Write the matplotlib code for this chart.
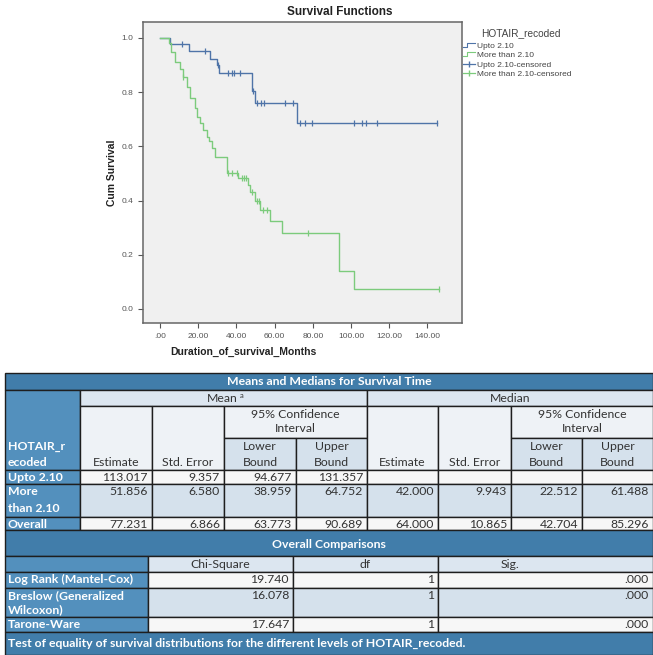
import numpy as np
import matplotlib
matplotlib.use('Agg')
import matplotlib.pyplot as plt
import matplotlib.lines as mlines
from matplotlib.patches import Rectangle
from matplotlib.legend_handler import HandlerBase

# ── Kaplan-Meier curves ──────────────────────────────────────────────────────
low_time  = [0, 5.2, 15.4, 26.2, 29.7, 31.0, 48.0, 49.7, 71.9, 145.0]
low_surv  = [1.0, 0.976, 0.952, 0.924, 0.900, 0.872, 0.804, 0.761, 0.685, 0.685]
low_cens  = [11.7, 23.6, 30.3, 35.8, 37.5, 38.7, 41.9, 48.5, 50.6, 52.7, 54.5,
             65.4, 69.8, 73.3, 75.9, 79.4, 101.7, 105.9, 107.7, 113.8, 145.0]

high_time = [0, 4.7, 5.8, 8.0, 10.5, 11.9, 14.0, 15.7, 18.3, 19.5, 20.9, 22.7,
             24.4, 25.8, 27.1, 28.8, 34.9, 41.0, 45.9, 47.1, 49.7, 52.4, 57.6,
             64.0, 93.7, 101.7, 146.0]
high_surv = [1.0, 0.980, 0.949, 0.913, 0.886, 0.855, 0.818, 0.780, 0.741, 0.710,
             0.685, 0.660, 0.636, 0.618, 0.593, 0.562, 0.503, 0.482, 0.458, 0.430,
             0.400, 0.365, 0.326, 0.279, 0.141, 0.073, 0.073]
high_cens = [12.2, 35.8, 37.5, 40.1, 42.7, 44.0, 45.0, 48.0, 50.6, 51.8, 54.1,
             55.8, 77.7, 146.0]

x_ticks  = [0, 20, 40, 60, 80, 100, 120, 140]
x_labels = ['.00', '20.00', '40.00', '60.00', '80.00', '100.00', '120.00', '140.00']
y_ticks  = [0.0, 0.2, 0.4, 0.6, 0.8, 1.0]
y_labels = ['0.0', '0.2', '0.4', '0.6', '0.8', '1.0']

legend_labels = ['Upto 2.10', 'More than 2.10', 'Upto 2.10-censored', 'More than 2.10-censored']

# ── tables ───────────────────────────────────────────────────────────────────
mm_groups = [['Upto 2.10'], ['More', 'than 2.10'], ['Overall']]
mean_est  = ['113.017', '51.856', '77.231']
mean_se   = ['9.357', '6.580', '6.866']
mean_lo   = ['94.677', '38.959', '63.773']
mean_hi   = ['131.357', '64.752', '90.689']
med_est   = ['', '42.000', '64.000']
med_se    = ['', '9.943', '10.865']
med_lo    = ['', '22.512', '42.704']
med_hi    = ['', '61.488', '85.296']

tests  = [['Log Rank (Mantel-Cox)'], ['Breslow (Generalized', 'Wilcoxon)'], ['Tarone-Ware']]
chi_sq = ['19.740', '16.078', '17.647']
dfs    = ['1', '1', '1']
sig    = ['.000', '.000', '.000']

BLUE  = '#4f74a8'
GREEN = '#7ccb7c'
W, H = 653, 655

fig = plt.figure(figsize=(W / 100, H / 100), dpi=100)
fig.patch.set_facecolor('white')


def px(x0, y0, x1, y1):
    return [x0 / W, 1 - y1 / H, (x1 - x0) / W, (y1 - y0) / H]


class StepHandler(HandlerBase):
    # small "_|‾‾" step symbol like SPSS uses for the survival lines
    def create_artists(self, legend, orig, xd, yd, width, height, fontsize, trans):
        x0, y0 = -xd, -yd
        xs = [x0, x0 + 0.35 * width, x0 + 0.35 * width, x0 + width]
        ys = [y0 + 0.15 * height, y0 + 0.15 * height, y0 + 0.85 * height, y0 + 0.85 * height]
        ln = mlines.Line2D(xs, ys, color=orig.get_color(), lw=0.8, transform=trans)
        return [ln]


# ── survival plot ────────────────────────────────────────────────────────────
ax = fig.add_axes(px(143, 22, 462, 323))
ax.set_facecolor('#f0f0f0')

for t, s, c, col in [(low_time, low_surv, low_cens, BLUE),
                     (high_time, high_surv, high_cens, GREEN)]:
    ax.step(t, s, where='post', color=col, lw=1.0, zorder=3)
    idx = np.searchsorted(t, c, side='right') - 1
    ax.plot(c, np.array(s)[idx], linestyle='None', marker='|', color=col,
            markersize=5, markeredgewidth=0.9, zorder=4)

ax.set_xlim(-8.9, 158.1)
ax.set_ylim(-0.052, 1.059)
ax.set_xticks(x_ticks)
ax.set_xticklabels(x_labels)
ax.set_yticks(y_ticks)
ax.set_yticklabels(y_labels)
ax.tick_params(labelsize=6, colors='#555555', length=3.5, width=0.8,
               labelfontfamily='Liberation Sans')
for spine in ax.spines.values():
    spine.set_color('#666666')
    spine.set_linewidth(1.1)

fig.text(340 / W, 1 - 12 / H, 'Survival Functions', ha='center', va='center',
         fontsize=8.5, fontweight='bold', family='Liberation Sans', color='#222222')
fig.text(112 / W, 1 - 173 / H, 'Cum Survival', ha='center', va='center', rotation=90,
         fontsize=7.5, fontweight='bold', family='Liberation Sans', color='#222222')
fig.text(243 / W, 1 - 352 / H, 'Duration_of_survival_Months', ha='center', va='center',
         fontsize=7.5, fontweight='bold', family='Liberation Sans', color='#222222')

step_low = mlines.Line2D([], [], color=BLUE, lw=0.9)
step_high = mlines.Line2D([], [], color=GREEN, lw=0.9)
handles = [
    step_low,
    step_high,
    mlines.Line2D([], [], color=BLUE, lw=0.9, marker='|', markersize=5),
    mlines.Line2D([], [], color=GREEN, lw=0.9, marker='|', markersize=5),
]
fig.text(481 / W, 1 - 33 / H, 'HOTAIR_recoded', ha='left', va='center',
         fontsize=7.3, family='Liberation Sans', color='#444444')
leg = ax.legend(handles, legend_labels, loc='upper left', frameon=False,
                bbox_to_anchor=(463 / W, 1 - 42 / H), bbox_transform=fig.transFigure,
                prop={'family': 'Liberation Sans', 'size': 6},
                handlelength=1.4, handletextpad=0.3, labelspacing=0.2,
                borderaxespad=0, borderpad=0,
                handler_map={step_low: StepHandler(), step_high: StepHandler()})
for txt in leg.get_texts():
    txt.set_color('#444444')

# ── tables, drawn in pixel coordinates ───────────────────────────────────────
tb = fig.add_axes([0, 0, 1, 1])
tb.set_xlim(0, W)
tb.set_ylim(H, 0)
tb.axis('off')

DARK = '#417daa'
STUB = '#5390bd'
HEAD = '#dce6f0'
PALE = '#eef2f6'
LB   = '#d5e1ec'
ROW  = '#f7f7f7'
FONT = ['Lato', 'DejaVu Sans']


def box(x0, x1, y0, y1, fc):
    tb.add_patch(Rectangle((x0, y0), x1 - x0, y1 - y0, facecolor=fc,
                           edgecolor='#1e1e1e', linewidth=1.0))


def put(x, y, s, ha='center', color='#333333', bold=False, size=8.8):
    tb.text(x, y, s, ha=ha, va='center', fontsize=size, color=color,
            family=FONT, fontweight='bold' if bold else 'normal')


X1 = [5, 80, 152, 224, 296, 367, 438, 511, 582, 653]
# title band
box(5, 653, 373, 390, DARK)
put(329, 381.5, 'Means and Medians for Survival Time', color='white', bold=True)
# stub header
box(5, 80, 390, 470, STUB)
put(8, 447, 'HOTAIR_r', ha='left', color='white', bold=True)
put(8, 462.5, 'ecoded', ha='left', color='white', bold=True)
# Mean / Median
box(80, 367, 390, 406, HEAD)
put(222, 398, 'Mean')
put(242, 395, 'a', size=5.5)
box(367, 653, 390, 406, HEAD)
put(510, 398, 'Median')
for a, b, c, d, e in (X1[1:6], X1[5:10]):
    box(a, b, 406, 470, PALE)
    put((a + b) / 2, 462.5, 'Estimate')
    box(b, c, 406, 470, PALE)
    put((b + c) / 2, 462.5, 'Std. Error')
    box(c, e, 406, 438, PALE)
    put((c + e) / 2, 415, '95% Confidence')
    put((c + e) / 2, 429, 'Interval')
    box(c, d, 438, 470, LB)
    put((c + d) / 2, 447, 'Lower')
    put((c + d) / 2, 462.5, 'Bound')
    box(d, e, 438, 470, LB)
    put((d + e) / 2, 447, 'Upper')
    put((d + e) / 2, 462.5, 'Bound')

rows1 = [(470, 484, ROW), (484, 517, LB), (517, 530, ROW)]
cols1 = [mean_est, mean_se, mean_lo, mean_hi, med_est, med_se, med_lo, med_hi]
for i, (y0, y1, fc) in enumerate(rows1):
    box(5, 80, y0, y1, STUB)
    for j, line in enumerate(mm_groups[i]):
        put(8, y0 + 7.5 + 17 * j, line, ha='left', color='white', bold=True)
    for j, vals in enumerate(cols1):
        box(X1[j + 1], X1[j + 2], y0, y1, fc)
        put(X1[j + 2] - 4, y0 + 7.5, vals[i], ha='right')

# overall comparisons
X2 = [5, 148, 293, 438, 653]
box(5, 653, 530, 556, DARK)
put(329, 545, 'Overall Comparisons', color='white', bold=True)
box(5, 148, 556, 572, STUB)
box(148, 293, 556, 572, HEAD)
put(220, 564, 'Chi-Square')
box(293, 438, 556, 572, HEAD)
put(365, 564, 'df')
box(438, 653, 556, 572, HEAD)
put(510, 564, 'Sig.')

rows2 = [(572, 588, ROW), (588, 617, LB), (617, 632, ROW)]
for i, (y0, y1, fc) in enumerate(rows2):
    box(5, 148, y0, y1, STUB)
    for j, line in enumerate(tests[i]):
        put(8, y0 + 7.5 + 14 * j, line, ha='left', color='white', bold=True)
    for j, vals in enumerate([chi_sq, dfs, sig]):
        box(X2[j + 1], X2[j + 2], y0, y1, fc)
        put(X2[j + 2] - 4, y0 + 7.5, vals[i], ha='right')

box(5, 653, 632, 655, DARK)
put(8, 643, 'Test of equality of survival distributions for the different levels of HOTAIR_recoded.',
    ha='left', color='white', bold=True)

fig.savefig('out.png', dpi=100)
